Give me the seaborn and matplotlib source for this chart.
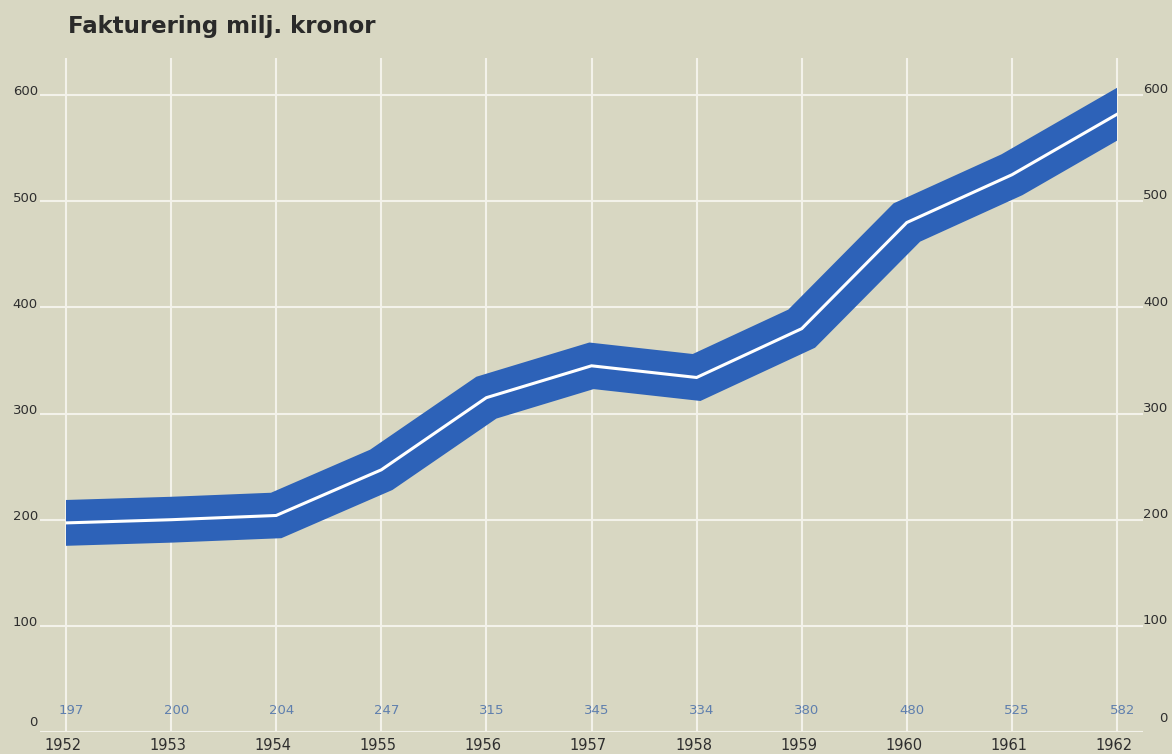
import numpy as np
import pandas as pd
import seaborn as sns
import matplotlib.pyplot as plt
import matplotlib.transforms as mtransforms
from matplotlib.patches import Rectangle

years = [1952, 1953, 1954, 1955, 1956, 1957, 1958, 1959, 1960, 1961, 1962]
fakturering = [197, 200, 204, 247, 315, 345, 334, 380, 480, 525, 582]
y_ticks = [0, 100, 200, 300, 400, 500, 600]
title = "Fakturering milj. kronor"

bg = "#d8d7c2"
blue = "#2d62b8"
value_color = "#5f7fae"
text_color = "#2e2e2e"

df = pd.DataFrame({"year": years, "value": fakturering})

sns.set_style("white")
plt.rcParams["font.family"] = ["DejaVu Sans"]

fig = plt.figure(figsize=(11.72, 7.54), dpi=100)
fig.patch.set_facecolor(bg)
ax = fig.add_axes([39.7 / 1172, 22 / 754, 1103.6 / 1172, 674 / 754])
ax.set_facecolor(bg)

ax.set_xlim(1951.75, 1962.25)
ax.set_ylim(0, 635)

# grid drawn by hand so vertical lines span the full height
for y in y_ticks:
    ax.axhline(y, color="#f3f2ea", lw=1.5, zorder=1)
for x in years:
    ax.axvline(x, color="#f3f2ea", lw=1.5, zorder=1)

# the thick blue band and the white centre line
sns.lineplot(data=df, x="year", y="value", ax=ax, color=blue, lw=33, zorder=3)
sns.lineplot(data=df, x="year", y="value", ax=ax, color="white", lw=2.2, zorder=4)
clip = Rectangle((1952, -100), 10, 1000, transform=ax.transData)
for ln in ax.lines[-2:]:
    ln.set_solid_capstyle("projecting")
    ln.set_solid_joinstyle("miter")
    ln.set_clip_path(clip)

for s in ax.spines.values():
    s.set_visible(False)
ax.set_xticks([])
ax.set_yticks([])
ax.set_xlabel("")
ax.set_ylabel("")

# y labels on both sides
trans = mtransforms.blended_transform_factory(fig.transFigure, ax.transData)
for y in y_ticks:
    off_l = 9 if y == 0 else 3
    off_r = 13 if y == 0 else 5
    ax.text(38 / 1172, y + off_l, str(y), transform=trans, ha="right", va="center",
            fontsize=9.5, color=text_color)
    ax.text(1168 / 1172, y + off_r, str(y), transform=trans, ha="right", va="center",
            fontsize=9.5, color=text_color)

# values above the baseline, years below
transx = mtransforms.blended_transform_factory(ax.transData, fig.transFigure)
for yr, v in zip(years, fakturering):
    ax.text(yr + 0.05, 1 - 711 / 754, str(v), transform=transx, ha="center", va="center",
            fontsize=9.5, color=value_color)
    ax.text(yr - 0.03, 1 - 746 / 754, str(yr), transform=transx, ha="center", va="center",
            fontsize=10.5, color=text_color)

fig.text(68 / 1172, 1 - 27 / 754, title, ha="left", va="center",
         fontsize=16.5, fontweight="bold", color="#2a2a2a")

fig.savefig("out.png", dpi=100, facecolor=bg)
